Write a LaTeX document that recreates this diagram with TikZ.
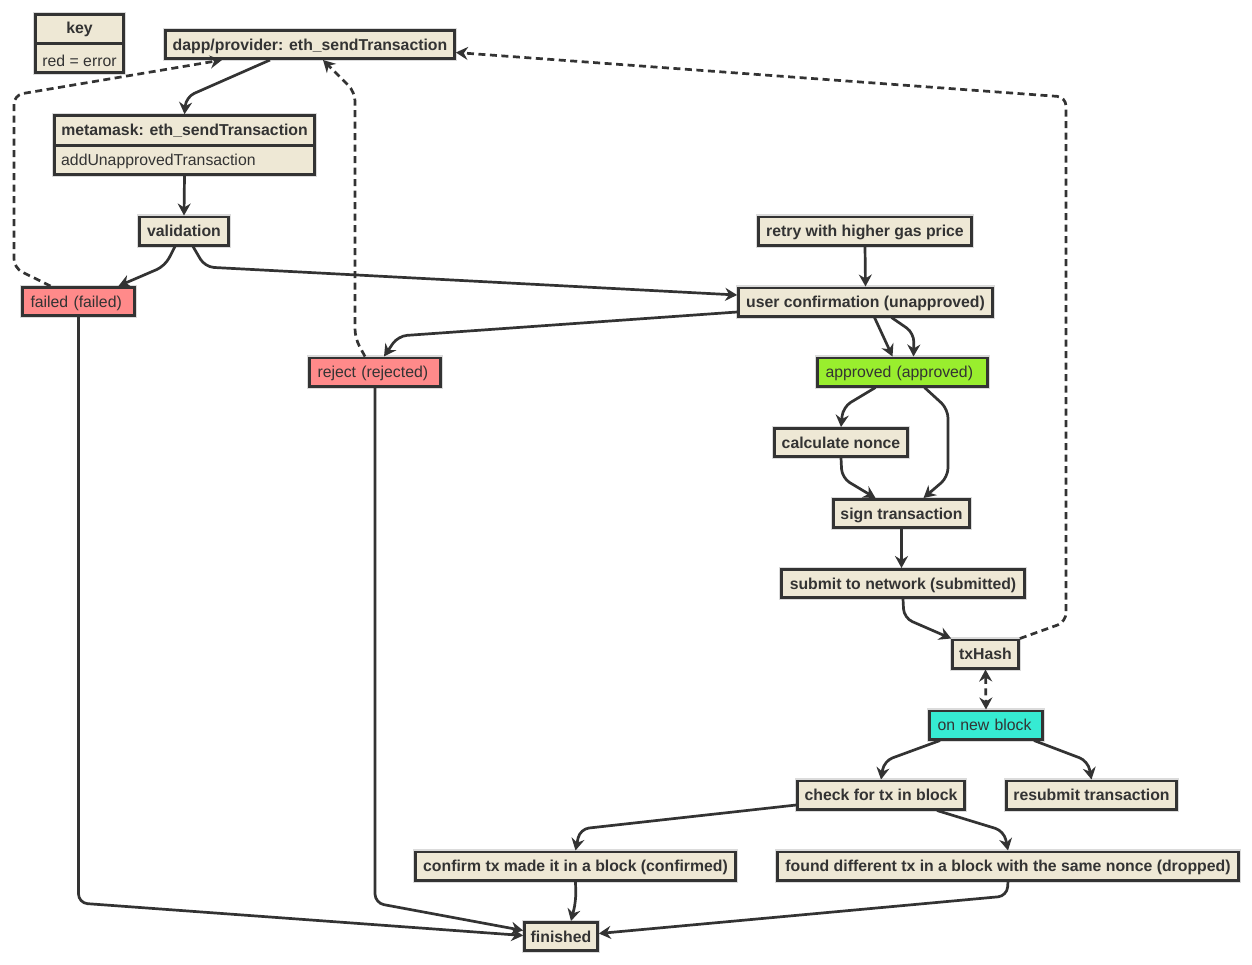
\documentclass[tikz,border=0pt]{standalone}
\usepackage{fontspec}
\setmainfont{Liberation Sans}
\usetikzlibrary{arrows.meta}
\definecolor{ink}{HTML}{333333}
\definecolor{paper}{HTML}{EEE8D5}
\definecolor{errfill}{HTML}{FF8A8A}
\definecolor{okfill}{HTML}{99EE2E}
\definecolor{blockfill}{HTML}{36EBD3}
\newcommand{\lblfont}{\fontsize{15.8}{18}\selectfont}

\begin{document}
\begin{tikzpicture}[x=1pt,y=-1pt,
  >={Stealth[length=12pt,width=13pt,inset=4pt]},
  every node/.style={text=ink, font=\lblfont},
  halo/.style={preaction={draw=black!14, line width=5pt}},
  box/.style={draw=ink, line width=2.7pt, fill=paper, inner sep=0pt,
    minimum height=28.3pt, text height=11.5pt, text depth=0.5pt,
    font=\lblfont\bfseries, halo},
  plainbox/.style={box, font=\lblfont, align=left, inner xsep=8pt},
  errbox/.style={plainbox, fill=errfill},
  okbox/.style={plainbox, fill=okfill},
  blockbox/.style={plainbox, fill=blockfill},
  flow/.style={draw=ink, line width=2.7pt, rounded corners=9pt, ->},
  back/.style={flow, dash pattern=on 7pt off 4.5pt},
]
\fill[white] (0,0) rectangle (1252,964);
\useasboundingbox (0,0) rectangle (1252,964);

% legend
\node[box, minimum width=88pt, minimum height=58pt] (key) at (79.5,43.5) {};
\node[font=\lblfont\bfseries] (keyhead) at (79.5,29.5) {key};
\node (keybody) at (79.5,60.5) {red = error};
\draw[ink, line width=2.7pt] (key.west |- 0,43.5) -- (key.east |- 0,43.5);

% request entry points
\node[box, minimum width=289pt] (dapp) at (310,44.5) {dapp/provider: eth\_sendTransaction};

\node[box, minimum width=260pt, minimum height=59pt] (mm) at (184.5,145) {};
\node[font=\lblfont\bfseries] (mmhead) at (184.5,130.5) {metamask: eth\_sendTransaction};
\node[anchor=west, inner xsep=0pt] (mmbody) at (61,161.5) {addUnapprovedTransaction};
\draw[ink, line width=2.7pt] (mm.west |- 0,145.5) -- (mm.east |- 0,145.5);

\node[box, minimum width=89pt] (val) at (184,231) {validation};
\node[errbox, text width=96pt] (failed) at (78.5,301.5) {failed (failed)};

% user confirmation and signing
\node[box, minimum width=213pt] (retry) at (865,231) {retry with higher gas price};
\node[box, minimum width=254pt] (uc) at (865.5,302) {user confirmation (unapproved)};
\node[errbox, text width=115pt] (reject) at (375,372) {reject (rejected)};
\node[okbox, text width=154pt] (app) at (902.5,372) {approved (approved)};
\node[box, minimum width=133pt] (cn) at (841,442.5) {calculate nonce};
\node[box, minimum width=136pt] (sign) at (901.5,513.5) {sign transaction};
\node[box, minimum width=243pt] (submit) at (903,583.5) {submit to network (submitted)};
\node[box, minimum width=66pt] (tx) at (985.5,654) {txHash};

% block tracking
\node[blockbox, text width=97pt] (onb) at (986,725) {on new block};
\node[box, minimum width=167pt] (check) at (881,795) {check for tx in block};
\node[box, minimum width=170pt] (resub) at (1091.5,795) {resubmit transaction};
\node[box, minimum width=320pt] (confirm) at (575.5,866) {confirm tx made it in a block (confirmed)};
\node[box, minimum width=461pt] (found) at (1008,866) {found different tx in a block with the same nonce (dropped)};
\node[box, minimum width=73pt] (fin) at (561,936.5) {finished};

% connectors
\draw[flow] ([xshift=-40pt]dapp.south) -- (186,97) -- (mm.north);
\draw[flow] (mm.south) -- (val.north);
\draw[flow] ([xshift=-9pt]val.south) -- (165,266) -- ([xshift=40pt]failed.north);
\draw[flow] ([xshift=9pt]val.south) -- (205,267) -- ([yshift=7pt]uc.west);
\draw[back] ([xshift=-28pt]failed.north) -- (14,268) -- (14,95) -- ([xshift=-88pt]dapp.south);
\draw[flow] ([yshift=-10pt]uc.west) -- (398,336) -- ([xshift=9pt]reject.north);
\draw[back] ([xshift=-10pt]reject.north) -- (355,338) -- (355,92) -- ([xshift=13pt]dapp.south);
\draw[flow] (retry.south) -- (uc.north);
\draw[flow] ([xshift=9pt]uc.south) -- ([xshift=-10pt]app.north);
\draw[flow] ([xshift=26pt]uc.south) -- (914,333) -- ([xshift=11pt]app.north);
\draw[flow] ([xshift=-27pt]app.south) -- (843,407) -- (cn.north);
\draw[flow] ([xshift=22pt]app.south) -- (948,409) -- (948,477) -- ([xshift=22pt]sign.north);
\draw[flow] (cn.south) -- (842,478) -- ([xshift=-26pt]sign.north);
\draw[flow] (sign.south) -- (sign.south |- submit.north);
\draw[flow] (submit.south) -- (904,618) -- (tx.north west);
\draw[back] (tx.north east) -- (1066,622) -- (1066,97) -- ([yshift=-8pt]dapp.east);
\draw[back, <->] (tx.south) -- (onb.north);
\draw[flow] ([xshift=-46pt]onb.south) -- (884,761) -- (check.north);
\draw[flow] ([xshift=48pt]onb.south) -- (1088,761) -- (resub.north);
\draw[flow] ([yshift=-10pt]check.west) -- (580,829) -- (confirm.north);
\draw[flow] ([xshift=56pt]check.south) -- (1004,831) -- (found.north);
\draw[flow] (confirm.south) -- (576,901) -- ([xshift=10pt]fin.north);
\draw[flow] (found.south) -- (1007,896) -- ([yshift=3pt]fin.east);
\draw[flow] (failed.south) -- (78.5,903) -- ([yshift=1pt]fin.west);
\draw[flow] (reject.south) -- (375,903) -- ([yshift=6pt]fin.west);
\end{tikzpicture}
\end{document}
